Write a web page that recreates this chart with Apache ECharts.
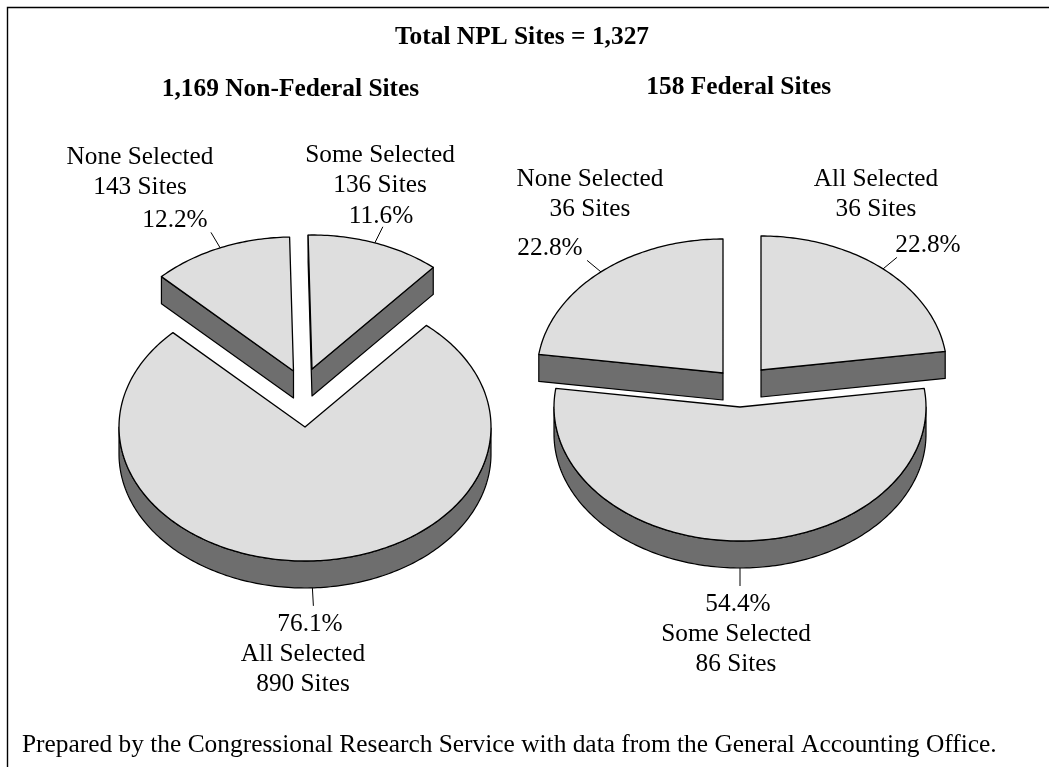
<!DOCTYPE html>
<html>
<head>
<meta charset="utf-8">
<style>
  html, body { margin: 0; padding: 0; background: #fff; }
  #chart { width: 1049px; height: 767px; }
</style>
<script src="https://cdn.jsdelivr.net/npm/echarts@6/dist/echarts.min.js"></script>
</head>
<body>
<div id="chart"></div>
<script>
// Data
const leftCategories = ['Some Selected', 'All Selected', 'None Selected'];
const leftSites = [136, 890, 143];
const leftPercents = [11.6, 76.1, 12.2];

const rightCategories = ['All Selected', 'Some Selected', 'None Selected'];
const rightSites = [36, 86, 36];
const rightPercents = [22.8, 54.4, 22.8];

const mainTitle = 'Total NPL Sites = 1,327';
const leftTitle = '1,169 Non-Federal Sites';
const rightTitle = '158 Federal Sites';
const footer = 'Prepared by the Congressional Research Service with data from the General Accounting Office.';

// Layout
const FONT = '"Liberation Serif", "Times New Roman", serif';
const TEXT_SIZE = 25.3;
const BOLD_SIZE = 25.4;
const FOOTER_SIZE = 25.4;
const RX = 186;
const RY = 134;
const DEPTH = 27;
const TOP_COLOR = '#dedede';
const WALL_COLOR = '#6e6e6e';

const leftPie = {
    cx: 303, cy: 387, startAngle: -1.2,
    offsets: [[9, -18], [2, 40], [-9.5, -16]],
    // [name/sites x, name y, percent x, percent y] per slice
    labels: [[380, 155, 381, 216], [303, 654, 310, 624], [140, 157, 175, 220]]
};
const rightPie = {
    cx: 741, cy: 380, startAngle: 0,
    offsets: [[20, -10], [-1, 27], [-18, -7]],
    labels: [[876, 179, 928, 245], [736, 634, 738, 604], [590, 179, 550, 248]]
};

function point(cx, cy, deg) {
    const a = deg * Math.PI / 180;
    return [cx + RX * Math.sin(a), cy - RY * Math.cos(a)];
}

function makeRenderItem(pie, sites) {
    const total = sites.reduce((s, v) => s + v, 0);
    return function (params, api) {
        const i = params.dataIndex;
        const value = api.value(0);
        let before = 0;
        for (let k = 0; k < i; k++) before += sites[k];
        const a0 = pie.startAngle + before / total * 360;
        const a1 = a0 + value / total * 360;
        const cx = pie.cx + pie.offsets[i][0];
        const cy = pie.cy + pie.offsets[i][1];

        // outline of the top face, clockwise from the apex
        const pts = [[cx, cy]];
        const steps = Math.max(8, Math.ceil(a1 - a0));
        for (let s = 0; s <= steps; s++) {
            pts.push(point(cx, cy, a0 + (a1 - a0) * s / steps));
        }

        const children = [];
        const n = pts.length;
        const visible = s => pts[(s + 1) % n][0] - pts[s][0] < -0.01;

        // walls: an edge shows its side when it runs leftwards on screen
        for (let s = 0; s < n; s++) {
            if (!visible(s) || visible((s + n - 1) % n)) continue;
            const run = [pts[s]];
            let e = s;
            while (visible(e)) {
                e = (e + 1) % n;
                run.push(pts[e]);
            }
            const wall = run.concat(run.slice().reverse().map(p => [p[0], p[1] + DEPTH]));
            children.push({
                type: 'polygon',
                shape: { points: wall },
                style: { fill: WALL_COLOR, stroke: '#000', lineWidth: 1.2, lineJoin: 'round' },
                silent: true
            });
        }
        children.push({
            type: 'polygon',
            shape: { points: pts },
            style: { fill: TOP_COLOR, stroke: '#000', lineWidth: 1.3, lineJoin: 'round' },
            silent: true
        });

        // leader line from the rim at the middle of the slice
        const mid = (a0 + a1) / 2;
        const front = Math.cos(mid * Math.PI / 180) < 0;
        const rim = point(cx, cy + (front ? DEPTH : 0), mid);
        const dx = rim[0] - cx, dy = rim[1] - cy - (front ? DEPTH : 0);
        const len = Math.sqrt(dx * dx + dy * dy);
        children.push({
            type: 'line',
            shape: { x1: rim[0], y1: rim[1], x2: rim[0] + dx / len * 18, y2: rim[1] + dy / len * 18 },
            style: { stroke: '#000', lineWidth: 1 },
            silent: true
        });
        return { type: 'group', children: children };
    };
}

function text(str, x, y, size, align, bold) {
    return {
        type: 'text',
        x: x,
        y: y,
        silent: true,
        style: {
            text: str,
            fill: '#000',
            font: (bold ? 'bold ' : '') + size + 'px ' + FONT,
            textAlign: align,
            textVerticalAlign: 'middle'
        }
    };
}

function sliceLabels(pie, names, sites, percents) {
    const out = [];
    names.forEach((name, i) => {
        const l = pie.labels[i];
        out.push(text(name, l[0], l[1], TEXT_SIZE, 'center'));
        out.push(text(sites[i] + ' Sites', l[0], l[1] + 30.5, TEXT_SIZE, 'center'));
        out.push(text(percents[i].toFixed(1) + '%', l[2], l[3], TEXT_SIZE, 'center'));
    });
    return out;
}

const chart = echarts.init(document.getElementById('chart'), null, { renderer: 'canvas' });

chart.setOption({
    backgroundColor: '#fff',
    animation: false,
    graphic: [
        // frame: only the top and left sides are drawn
        {
            type: 'polyline',
            silent: true,
            shape: { points: [[7.5, 767], [7.5, 7.5], [1049, 7.5]] },
            style: { stroke: '#000', lineWidth: 1.4, fill: 'none' }
        },
        text(mainTitle, 522, 37.5, BOLD_SIZE, 'center', true),
        text(leftTitle, 290.5, 89, BOLD_SIZE, 'center', true),
        text(rightTitle, 738.7, 87, BOLD_SIZE, 'center', true),
        text(footer, 22, 745, FOOTER_SIZE, 'left')
    ].concat(
        sliceLabels(leftPie, leftCategories, leftSites, leftPercents),
        sliceLabels(rightPie, rightCategories, rightSites, rightPercents)
    ),
    series: [
        {
            type: 'custom',
            name: leftTitle,
            coordinateSystem: 'none',
            renderItem: makeRenderItem(leftPie, leftSites),
            data: leftSites.map(v => [v])
        },
        {
            type: 'custom',
            name: rightTitle,
            coordinateSystem: 'none',
            renderItem: makeRenderItem(rightPie, rightSites),
            data: rightSites.map(v => [v])
        }
    ]
});
</script>
</body>
</html>
